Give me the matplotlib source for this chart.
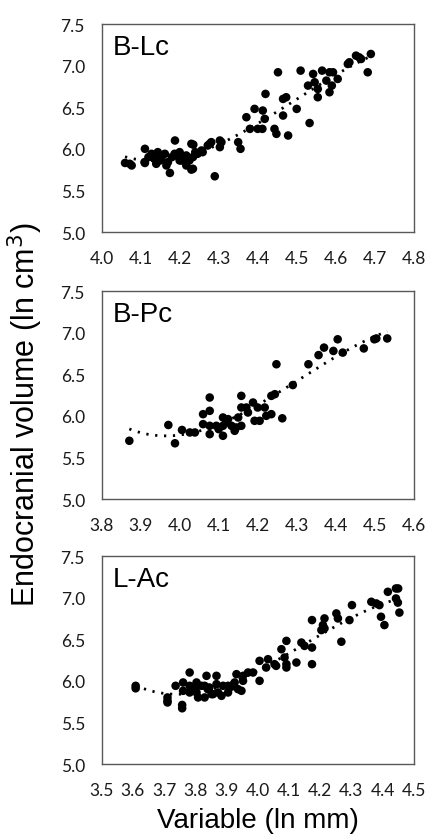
import matplotlib
matplotlib.use("Agg")
import matplotlib.pyplot as plt
import numpy as np

plt.rcParams["font.family"] = ["Lato", "DejaVu Sans"]

# B-Lc
blc_x = [4.06, 4.077, 4.111, 4.111, 4.128, 4.145, 4.153, 4.166, 4.175, 4.188,
         4.188, 4.2, 4.2, 4.217, 4.23, 4.235, 4.24, 4.256, 4.277, 4.29,
         4.303, 4.303, 4.35, 4.356, 4.371, 4.38, 4.392, 4.4, 4.413, 4.418,
         4.412, 4.42, 4.443, 4.448, 4.452, 4.465, 4.473, 4.465, 4.478, 4.50,
         4.51, 4.533, 4.529, 4.542, 4.546, 4.554, 4.554, 4.565, 4.576, 4.584,
         4.584, 4.593, 4.59, 4.605, 4.631, 4.635, 4.652, 4.66, 4.665, 4.682,
         4.69, 4.072, 4.11, 4.128, 4.144, 4.162, 4.17, 4.187, 4.204, 4.217,
         4.23, 4.234, 4.234, 4.246, 4.259, 4.272, 4.281, 4.307, 4.135, 4.15,
         4.18, 4.14, 4.21, 4.12, 4.195, 4.225]
blc_y = [5.83, 5.80, 6.00, 5.83, 5.92, 5.92, 5.88, 5.80, 5.71, 6.10,
         5.92, 5.96, 5.86, 5.80, 5.75, 6.05, 5.96, 5.98, 6.06, 5.67,
         6.10, 6.02, 6.08, 6.00, 6.38, 6.24, 6.48, 6.24, 6.46, 6.36,
         6.24, 6.66, 6.24, 6.18, 6.92, 6.60, 6.62, 6.40, 6.16, 6.48,
         6.94, 6.31, 6.76, 6.90, 6.80, 6.72, 6.62, 6.94, 6.82, 6.92,
         6.68, 6.92, 6.76, 6.84, 7.02, 7.04, 7.12, 7.10, 7.08, 6.92,
         7.14, 5.82, 5.84, 5.94, 5.96, 5.94, 5.84, 5.94, 5.86, 5.92,
         6.06, 5.76, 5.90, 5.94, 5.96, 6.04, 6.08, 6.08, 5.88, 5.86,
         5.90, 5.82, 5.88, 5.90, 5.92, 5.86]

# B-Pc
bpc_x = [3.871, 3.971, 3.988, 4.006, 4.026, 4.039, 4.06, 4.06, 4.077, 4.077,
         4.077, 4.077, 4.094, 4.111, 4.111, 4.111, 4.124, 4.133, 4.141, 4.15,
         4.158, 4.158, 4.158, 4.171, 4.175, 4.188, 4.192, 4.20, 4.205, 4.218,
         4.222, 4.235, 4.235, 4.244, 4.248, 4.263, 4.29, 4.33, 4.356, 4.37,
         4.394, 4.405, 4.418, 4.472, 4.499, 4.504, 4.532, 4.10, 4.12, 4.145]
bpc_y = [5.70, 5.89, 5.67, 5.83, 5.80, 5.80, 6.02, 5.90, 6.22, 6.06,
         5.88, 5.78, 5.88, 5.98, 5.88, 5.76, 5.96, 5.88, 5.82, 5.98,
         6.24, 6.10, 5.88, 6.10, 6.04, 6.16, 5.94, 6.10, 5.94, 6.10,
         6.00, 6.02, 6.24, 6.26, 6.62, 5.97, 6.37, 6.62, 6.73, 6.82,
         6.78, 6.92, 6.76, 6.81, 6.92, 6.93, 6.93, 5.84, 5.92, 5.86]

# L-Ac
lac_x = [3.609, 3.609, 3.711, 3.711, 3.711, 3.737, 3.758, 3.758, 3.761, 3.782,
         3.782, 3.782, 3.804, 3.804, 3.82, 3.83, 3.836, 3.84, 3.852, 3.868,
         3.868, 3.873, 3.889, 3.905, 3.905, 3.926, 3.932, 3.948, 3.953, 3.969,
         3.985, 4.006, 4.006, 4.033, 4.054, 4.059, 4.076, 4.086, 4.092, 4.092,
         4.092, 4.124, 4.14, 4.15, 4.174, 4.174, 4.174, 4.204, 4.209, 4.214,
         4.214, 4.252, 4.257, 4.268, 4.294, 4.302, 4.364, 4.38, 4.39, 4.395,
         4.406, 4.417, 4.443, 4.45, 4.443, 4.449, 4.454, 3.761, 3.809, 3.83,
         3.857, 3.884, 3.916, 3.937, 3.953, 4.027, 3.80, 3.845]
lac_y = [5.94, 5.91, 5.80, 5.76, 5.74, 5.94, 5.71, 5.67, 5.98, 6.10,
         5.94, 5.86, 5.98, 5.86, 5.94, 5.80, 6.06, 5.90, 5.84, 6.06,
         5.96, 5.86, 5.94, 5.86, 5.94, 5.98, 6.08, 5.88, 6.00, 6.10,
         6.10, 6.24, 6.00, 6.26, 6.20, 6.18, 6.38, 6.28, 6.48, 6.20,
         6.16, 6.22, 6.46, 6.42, 6.40, 6.20, 6.73, 6.61, 6.67, 6.75,
         6.63, 6.81, 6.75, 6.47, 6.73, 6.91, 6.95, 6.93, 6.91, 6.77,
         6.67, 7.07, 7.11, 7.11, 6.99, 6.94, 6.82, 5.88, 5.80, 5.94,
         5.84, 5.82, 5.93, 5.90, 6.06, 6.16, 5.90, 5.92]

panels = [
    ("B-Lc", blc_x, blc_y, 4.0, 4.8),
    ("B-Pc", bpc_x, bpc_y, 3.8, 4.6),
    ("L-Ac", lac_x, lac_y, 3.5, 4.5),
]
axes_bottoms = [0.7216, 0.4026, 0.086]

fig = plt.figure(figsize=(4.27, 8.37), dpi=100)

for (name, xs, ys, xmin, xmax), bot in zip(panels, axes_bottoms):
    ax = fig.add_axes([0.238, bot, 0.731, 0.2485])
    xs = np.array(xs)
    ys = np.array(ys)
    ax.scatter(xs, ys, s=38, color="black", edgecolors="none", zorder=3)
    # polynomial trend line
    coef = np.polyfit(xs, ys, 3)
    xf = np.linspace(xs.min(), xs.max(), 200)
    ax.plot(xf, np.polyval(coef, xf), color="black", lw=2.0,
            linestyle=(0, (0.8, 2.4)), zorder=2)
    ax.set_xlim(xmin, xmax)
    ax.set_ylim(5.0, 7.5)
    xt = np.arange(xmin, xmax + 0.01, 0.1)
    ax.set_xticks(xt)
    ax.set_xticklabels(["%.1f" % v for v in xt])
    ax.set_yticks([5.0, 5.5, 6.0, 6.5, 7.0, 7.5])
    ax.set_yticklabels(["5.0", "5.5", "6.0", "6.5", "7.0", "7.5"])
    ax.tick_params(axis="both", length=0, labelsize=12.5, colors="#1a1a1a")
    ax.tick_params(axis="y", pad=12)
    ax.tick_params(axis="x", pad=13)
    for sp in ax.spines.values():
        sp.set_color("#595959")
        sp.set_linewidth(1.0)
    ax.text(0.036, 0.95, name, transform=ax.transAxes, ha="left", va="top",
            fontsize=20, family="Liberation Sans")

fig.text(0.058, 0.505, "Endocranial volume (ln cm$^3$)", rotation=90,
         ha="center", va="center", fontsize=22, family="Liberation Sans")
fig.text(0.604, 0.019, "Variable (ln mm)", ha="center", va="center",
         fontsize=20, family="Liberation Sans")

fig.savefig("out.png", dpi=100)
